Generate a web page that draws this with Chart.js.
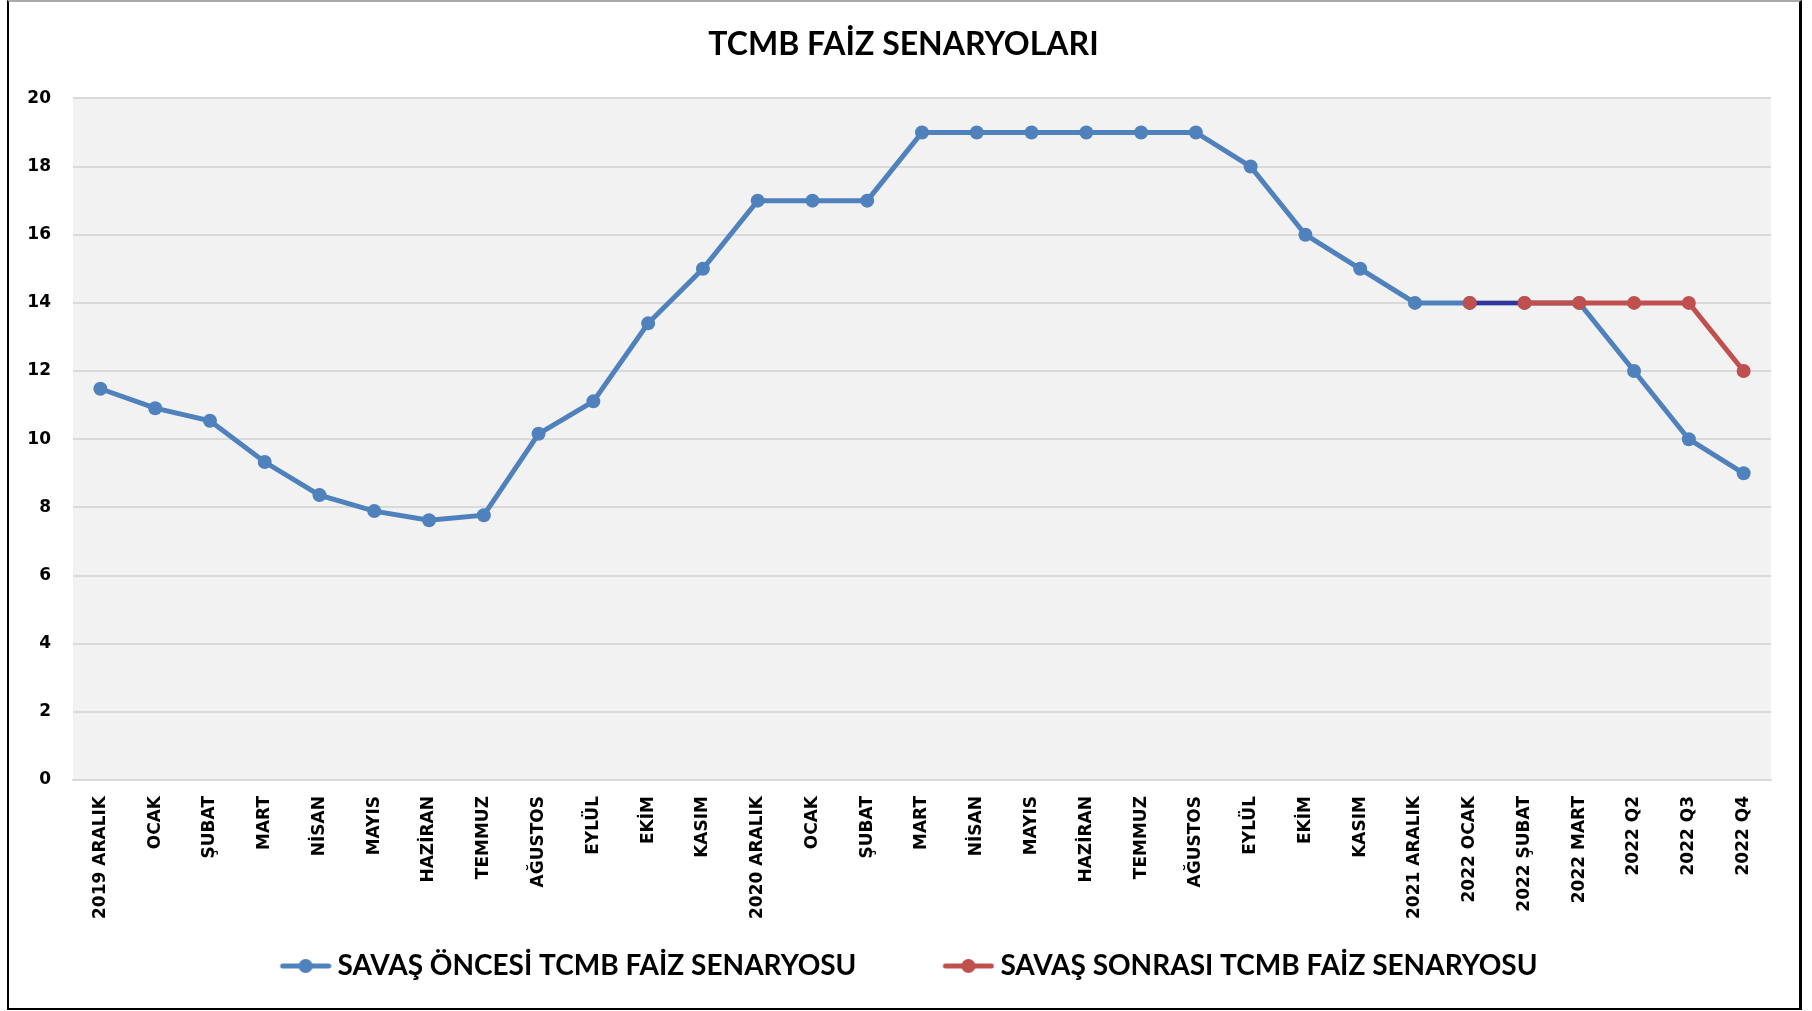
<!DOCTYPE html>
<html>
<head>
<meta charset="utf-8">
<script src="https://cdn.jsdelivr.net/npm/chart.js@4.4.1/dist/chart.umd.min.js"></script>
<style>
html, body { margin: 0; padding: 0; background: #fff; }
#wrap { position: relative; width: 1812px; height: 1011px; overflow: hidden; }
#c { position: absolute; left: 0; top: 0; }
#frame {
    position: absolute; left: 7px; top: 0; width: 1795px; height: 1010px;
    box-sizing: border-box; pointer-events: none;
    border-left: 2px solid #000; border-right: 3px solid #000;
    border-bottom: 2px solid #000; border-top: 2px solid #aaa;
}
</style>
</head>
<body>
<div id="wrap">
    <canvas id="c" width="1812" height="1011"></canvas>
    <div id="frame"></div>
</div>
<script>
const periods = [
    '2019 ARALIK', 'OCAK', 'ŞUBAT', 'MART', 'NİSAN', 'MAYIS', 'HAZİRAN', 'TEMMUZ',
    'AĞUSTOS', 'EYLÜL', 'EKİM', 'KASIM', '2020 ARALIK', 'OCAK', 'ŞUBAT', 'MART',
    'NİSAN', 'MAYIS', 'HAZİRAN', 'TEMMUZ', 'AĞUSTOS', 'EYLÜL', 'EKİM', 'KASIM',
    '2021 ARALIK', '2022 OCAK', '2022 ŞUBAT', '2022 MART', '2022 Q2', '2022 Q3', '2022 Q4'
];
const preWar = [
    11.48, 10.91, 10.54, 9.33, 8.36, 7.89, 7.62, 7.77, 10.16, 11.11, 13.4, 15,
    17, 17, 17, 19, 19, 19, 19, 19, 19, 18, 16, 15, 14, 14, 14, 14, 12, 10, 9
];
const postWar = [
    null, null, null, null, null, null, null, null, null, null, null, null,
    null, null, null, null, null, null, null, null, null, null, null, null, null,
    14, 14, 14, 14, 14, 12
];
const seriesNames = ['SAVAŞ ÖNCESİ TCMB FAİZ SENARYOSU', 'SAVAŞ SONRASI TCMB FAİZ SENARYOSU'];

const BLUE = '#4F81BD';
const RED = '#C0504D';
const NAVY = '#333399';

// legend marker: line with a dot, pushed to the right of a wider box
// so the items sit further apart like in Excel
function legendMarker(color) {
    const cv = document.createElement('canvas');
    cv.width = 136; cv.height = 16;
    const g = cv.getContext('2d');
    g.strokeStyle = color; g.lineWidth = 5; g.lineCap = 'round';
    g.beginPath(); g.moveTo(87, 8); g.lineTo(133, 8); g.stroke();
    g.fillStyle = color;
    g.beginPath(); g.arc(110, 8, 7, 0, Math.PI * 2); g.fill();
    return cv;
}
const markers = [legendMarker(BLUE), legendMarker(RED)];

const plotBg = {
    id: 'plotBg',
    beforeDraw(chart) {
        const { ctx, chartArea: a } = chart;
        ctx.save();
        ctx.fillStyle = '#F2F2F2';
        ctx.fillRect(a.left, a.top, a.right - a.left, a.bottom - a.top);
        ctx.restore();
    }
};

// nudge title / legend sideways, excel centres them on the whole frame
const nudge = {
    id: 'nudge',
    afterLayout(chart) {
        if (chart.titleBlock) { chart.titleBlock.left += 13; chart.titleBlock.right += 13; }
        if (chart.legend) { chart.legend.left -= 20; chart.legend.right -= 20; }
    }
};

const tickFont = { family: 'DejaVu Sans', weight: 'bold', size: 17 };

new Chart(document.getElementById('c'), {
    type: 'line',
    data: {
        labels: periods,
        datasets: [{
            label: seriesNames[0],
            data: preWar,
            order: 1,
            borderColor: BLUE,
            backgroundColor: BLUE,
            borderWidth: 5,
            pointRadius: 7,
            pointHoverRadius: 7,
            pointBorderWidth: 0,
            pointBackgroundColor: BLUE,
            tension: 0
        }, {
            label: seriesNames[1],
            data: postWar,
            order: 0,
            borderColor: RED,
            backgroundColor: RED,
            borderWidth: 5,
            pointRadius: 7,
            pointHoverRadius: 7,
            pointBorderWidth: 0,
            pointBackgroundColor: RED,
            tension: 0,
            segment: {
                borderColor: ctx => ctx.p0DataIndex === 25 ? NAVY : undefined,
                borderWidth: ctx => ctx.p0DataIndex === 25 ? 4 : undefined
            }
        }]
    },
    options: {
        responsive: false,
        animation: false,
        layout: { padding: { left: 10, right: 41, top: 0, bottom: 21 } },
        scales: {
            x: {
                offset: true,
                grid: { display: false },
                border: { display: true, color: '#D9D9D9', width: 2 },
                ticks: {
                    autoSkip: false, maxRotation: 90, minRotation: 90,
                    padding: 8, color: '#000', font: tickFont
                },
                afterFit: scale => { scale.height = 162; }
            },
            y: {
                min: 0, max: 20,
                grid: { color: '#D9D9D9', lineWidth: 2, drawTicks: false },
                border: { display: false },
                ticks: { stepSize: 2, padding: 22, color: '#000', font: tickFont },
                afterFit: scale => { scale.width = 63; }
            }
        },
        plugins: {
            title: {
                display: true,
                text: 'TCMB FAİZ SENARYOLARI',
                color: '#000',
                font: { family: 'Lato', weight: 'bold', size: 32, lineHeight: 1.2 },
                padding: { top: 25, bottom: 35 }
            },
            legend: {
                position: 'bottom',
                labels: {
                    color: '#000',
                    font: { family: 'Lato', weight: 'bold', size: 28 },
                    usePointStyle: true,
                    pointStyleWidth: 120,
                    padding: 10,
                    generateLabels(chart) {
                        const items = Chart.defaults.plugins.legend.labels.generateLabels(chart);
                        items.sort((a, b) => a.datasetIndex - b.datasetIndex);
                        items.forEach(it => { it.pointStyle = markers[it.datasetIndex]; });
                        return items;
                    }
                }
            },
            tooltip: { enabled: false }
        }
    },
    plugins: [plotBg, nudge]
});
</script>
</body>
</html>
